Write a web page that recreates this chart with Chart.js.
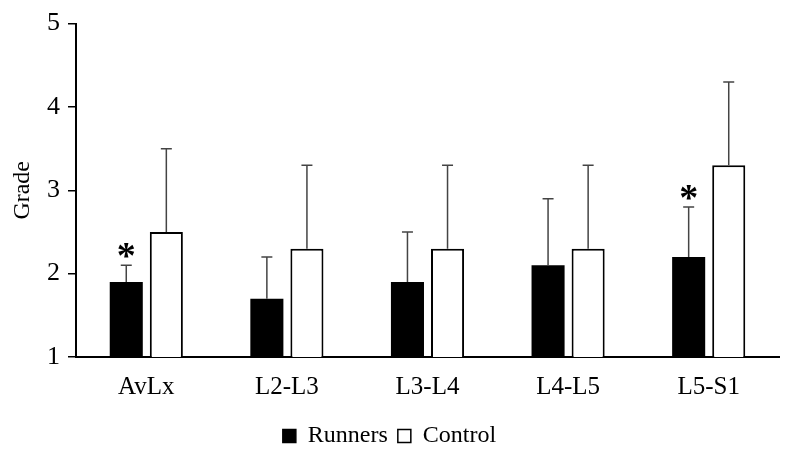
<!DOCTYPE html>
<html>
<head>
<meta charset="utf-8">
<script src="https://cdn.jsdelivr.net/npm/chart.js@4.4.1/dist/chart.umd.min.js"></script>
<style>
  html, body { margin: 0; padding: 0; background: #fff; }
  #wrap { width: 800px; height: 463px; position: relative; }
</style>
</head>
<body>
<div id="wrap"><canvas id="gradeChart"></canvas></div>
<script>
// Disc degeneration grade by lumbar level — runners vs control
var categories = ["AvLx", "L2-L3", "L3-L4", "L4-L5", "L5-S1"];
var runners = [1.9, 1.7, 1.9, 2.1, 2.2];
var runnersSD = [0.2, 0.5, 0.6, 0.8, 0.6];
var control = [2.5, 2.3, 2.3, 2.3, 3.3];
var controlSD = [1.0, 1.0, 1.0, 1.0, 1.0];
var significant = [true, false, false, false, true];
var yTicks = [1, 2, 3, 4, 5];

var SERIF = "'Liberation Serif', 'Times New Roman', serif";

// upward-only error bars plus the significance asterisks
var errorBars = {
  id: "errorBars",
  afterDatasetsDraw: function (chart) {
    var ctx = chart.ctx;
    var yScale = chart.scales.y;
    var sets = [
      { vals: runners, sd: runnersSD, stars: significant },
      { vals: control, sd: controlSD, stars: null }
    ];
    ctx.save();
    sets.forEach(function (s, i) {
      var meta = chart.getDatasetMeta(i);
      meta.data.forEach(function (bar, j) {
        var top = yScale.getPixelForValue(s.vals[j] + s.sd[j]);
        ctx.strokeStyle = "#444";
        ctx.lineWidth = 1.5;
        ctx.beginPath();
        ctx.moveTo(bar.x, bar.y);
        ctx.lineTo(bar.x, top);
        ctx.moveTo(bar.x - 5.5, top);
        ctx.lineTo(bar.x + 5.5, top);
        ctx.stroke();
        if (s.stars && s.stars[j]) {
          ctx.fillStyle = "#000";
          ctx.font = "bold 38px " + SERIF;
          ctx.textAlign = "center";
          ctx.textBaseline = "alphabetic";
          ctx.fillText("*", bar.x, top + 3);
        }
      });
    });
    ctx.restore();
  }
};

var ctx = document.getElementById("gradeChart").getContext("2d");
new Chart(ctx, {
  type: "bar",
  data: {
    labels: categories,
    datasets: [{
      label: "Runners",
      data: runners,
      backgroundColor: "#000",
      borderColor: "#000",
      borderWidth: 0,
      categoryPercentage: 0.57,
      barPercentage: 0.825
    }, {
      label: "Control",
      data: control,
      backgroundColor: "#fff",
      borderColor: "#000",
      borderWidth: 2,
      categoryPercentage: 0.57,
      barPercentage: 0.825
    }]
  },
  options: {
    responsive: true,
    maintainAspectRatio: false,
    animation: false,
    layout: { padding: { top: 18, right: 21, bottom: 5, left: 0 } },
    plugins: {
      tooltip: { enabled: false },
      legend: {
        position: "bottom",
        labels: {
          color: "#000",
          font: { family: SERIF, size: 24 },
          boxWidth: 13,
          boxHeight: 13,
          padding: 10,
          generateLabels: function (chart) {
            return chart.data.datasets.map(function (ds, i) {
              return {
                text: ds.label,
                fillStyle: ds.backgroundColor,
                strokeStyle: "#000",
                lineWidth: 1.5,
                fontColor: "#000",
                datasetIndex: i
              };
            });
          }
        }
      }
    },
    scales: {
      x: {
        grid: { display: false },
        border: { display: true, color: "#000", width: 2 },
        ticks: { color: "#000", font: { family: SERIF, size: 25 }, padding: 7 },
        afterFit: function (scale) { scale.height = 57; }
      },
      y: {
        min: 1,
        max: 5,
        afterBuildTicks: function (scale) {
          scale.ticks = yTicks.map(function (v) { return { value: v }; });
        },
        grid: { display: true, drawOnChartArea: false, drawTicks: true, tickLength: 8, color: "#000", lineWidth: 1.5 },
        border: { display: true, color: "#000", width: 2 },
        ticks: { color: "#000", font: { family: SERIF, size: 26 }, padding: 8 },
        title: { display: true, text: "Grade", color: "#000", font: { family: SERIF, size: 24 }, padding: { top: 8, bottom: 0 } },
        afterFit: function (scale) { scale.width = 76; }
      }
    }
  },
  plugins: [errorBars]
});
</script>
</body>
</html>
